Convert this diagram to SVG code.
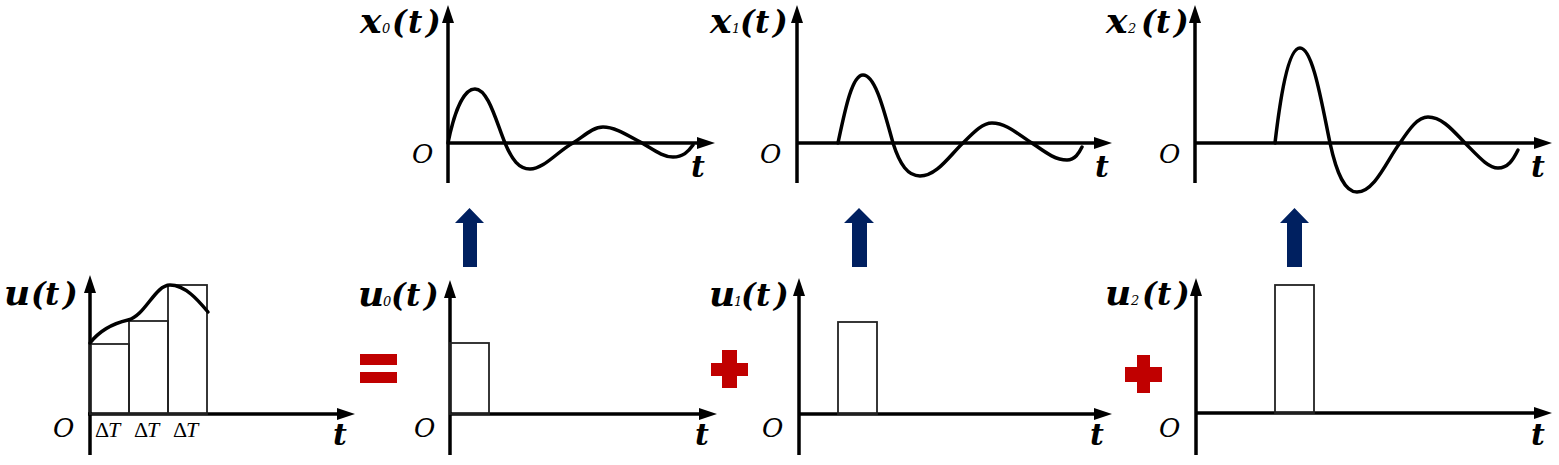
<svg xmlns="http://www.w3.org/2000/svg" width="1559" height="465" viewBox="0 0 1559 465">
<style>
.ax{stroke:#000;stroke-width:3.5;fill:none}
.cv{stroke:#000;stroke-width:3.5;fill:none;stroke-linejoin:round;stroke-linecap:round}
.bar{stroke:#222;stroke-width:1.8;fill:none}
.lab{font-family:"DejaVu Serif",serif;font-weight:bold;font-style:italic;font-size:31px;fill:#000}
.big{font-size:36px}
.sub{font-family:"DejaVu Serif",serif;font-style:italic;font-weight:normal;font-size:13px}
.o{font-family:"DejaVu Serif",serif;font-style:italic;font-size:26px;fill:#000}
.t{font-family:"DejaVu Serif",serif;font-weight:bold;font-style:italic;font-size:30px;fill:#000}
.dt{font-family:"Liberation Serif",serif;font-size:22px;fill:#000}
.red{fill:#C00000}
.blue{fill:#002060}
</style>
<defs>
<marker id="ah" markerUnits="userSpaceOnUse" markerWidth="18" markerHeight="12" refX="8" refY="6" orient="auto" viewBox="0 0 18 12">
<path d="M0,0 L18,6 L0,12 z" fill="#000"/>
</marker>
</defs>

<g id="panel-u">
<line class="ax" x1="90" y1="455" x2="90" y2="285" marker-end="url(#ah)"/>
<line class="ax" x1="88" y1="414" x2="345" y2="414" marker-end="url(#ah)"/>
<rect class="bar" x="90" y="344" width="39" height="70"/>
<rect class="bar" x="129" y="321" width="39" height="93"/>
<rect class="bar" x="168" y="285" width="39" height="129"/>
<path class="cv" d="M90,343 C100,330 115,323 128,320 C145,316 155,285 170,285 C185,285 198,300 208,312"/>
<text class="lab" y="305"><tspan x="4" class="big">u</tspan><tspan x="31">(</tspan><tspan x="45">t</tspan><tspan x="63">)</tspan></text>
<text class="o" x="53" y="437">O</text>
<text class="dt" y="437"><tspan x="95">Δ</tspan><tspan x="108" font-style="italic">T</tspan><tspan x="134">Δ</tspan><tspan x="147" font-style="italic">T</tspan><tspan x="173">Δ</tspan><tspan x="186" font-style="italic">T</tspan></text>
<text class="t" x="333" y="445">t</text>
</g>

<g id="panel-u0">
<line class="ax" x1="450" y1="455" x2="450" y2="290" marker-end="url(#ah)"/>
<line class="ax" x1="450" y1="414" x2="707" y2="414" marker-end="url(#ah)"/>
<rect class="bar" x="450" y="343" width="39" height="71"/>
<text class="lab" y="306"><tspan x="358" class="big">u</tspan><tspan x="383" class="sub">0</tspan><tspan x="391">(</tspan><tspan x="406">t</tspan><tspan x="424">)</tspan></text>
<text class="o" x="414" y="437">O</text>
<text class="t" x="695" y="445">t</text>
</g>

<g id="panel-u1">
<line class="ax" x1="799" y1="455" x2="799" y2="288" marker-end="url(#ah)"/>
<line class="ax" x1="799" y1="414" x2="1102" y2="414" marker-end="url(#ah)"/>
<rect class="bar" x="838" y="322" width="39" height="92"/>
<text class="lab" y="306"><tspan x="709" class="big">u</tspan><tspan x="734" class="sub">1</tspan><tspan x="741">(</tspan><tspan x="756">t</tspan><tspan x="774">)</tspan></text>
<text class="o" x="762" y="437">O</text>
<text class="t" x="1090" y="445">t</text>
</g>

<g id="panel-u2">
<line class="ax" x1="1196" y1="455" x2="1196" y2="288" marker-end="url(#ah)"/>
<line class="ax" x1="1196" y1="413" x2="1542" y2="413" marker-end="url(#ah)"/>
<rect class="bar" x="1275" y="285" width="39" height="128"/>
<text class="lab" y="305"><tspan x="1105" class="big">u</tspan><tspan x="1131" class="sub">2</tspan><tspan x="1142">(</tspan><tspan x="1157">t</tspan><tspan x="1175">)</tspan></text>
<text class="o" x="1159" y="437">O</text>
<text class="t" x="1531" y="445">t</text>
</g>

<g id="panel-x0">
<line class="ax" x1="448" y1="183" x2="448" y2="15" marker-end="url(#ah)"/>
<line class="ax" x1="448" y1="143" x2="705" y2="143" marker-end="url(#ah)"/>
<path class="cv" d="M448,143 C453,118 462,89 475,89 C488,89 496,121 505,143 C512,160 519,169 530,169 C544,169 558,151 573,143 C584,136 593,127 603,127 C616,127 630,137 642,143 C654,150 663,157 673,157 C683,157 688,152 693,145"/>
<text class="lab" y="33"><tspan x="360" class="big">x</tspan><tspan x="382" class="sub">0</tspan><tspan x="392">(</tspan><tspan x="408">t</tspan><tspan x="426">)</tspan></text>
<text class="o" x="412" y="163">O</text>
<text class="t" x="691" y="177">t</text>
</g>

<g id="panel-x1">
<line class="ax" x1="797" y1="183" x2="797" y2="15" marker-end="url(#ah)"/>
<line class="ax" x1="797" y1="143" x2="1102" y2="143" marker-end="url(#ah)"/>
<path class="cv" d="M838,143 C845,110 852,75 863,75 C876,75 885,115 893,143 C900,165 908,176 920,176 C937,176 950,155 963,143 C973,133 982,123 992,123 C1007,123 1020,136 1032,143 C1045,152 1055,160 1067,160 C1075,160 1079,153 1082,147"/>
<text class="lab" y="33"><tspan x="710" class="big">x</tspan><tspan x="732" class="sub">1</tspan><tspan x="740">(</tspan><tspan x="755">t</tspan><tspan x="773">)</tspan></text>
<text class="o" x="760" y="163">O</text>
<text class="t" x="1095" y="177">t</text>
</g>

<g id="panel-x2">
<line class="ax" x1="1195" y1="183" x2="1195" y2="15" marker-end="url(#ah)"/>
<line class="ax" x1="1195" y1="143" x2="1542" y2="143" marker-end="url(#ah)"/>
<path class="cv" d="M1275,143 C1280,100 1288,48 1300,48 C1313,48 1322,105 1330,143 C1337,175 1345,192 1357,192 C1375,192 1388,158 1400,143 C1410,128 1418,117 1428,117 C1443,117 1455,133 1465,143 C1478,156 1488,168 1498,168 C1508,168 1513,160 1518,150"/>
<text class="lab" y="33"><tspan x="1106" class="big">x</tspan><tspan x="1128" class="sub">2</tspan><tspan x="1141">(</tspan><tspan x="1156">t</tspan><tspan x="1174">)</tspan></text>
<text class="o" x="1159" y="163">O</text>
<text class="t" x="1531" y="177">t</text>
</g>

<g id="operators">
<rect class="red" x="360" y="354" width="37" height="11"/>
<rect class="red" x="360" y="372" width="37" height="11"/>
<path class="red" d="M722,350 H737 V363 H748 V376 H737 V388 H722 V376 H711 V363 H722 z"/>
<path class="red" d="M1137,355 H1150 V367 H1162 V382 H1150 V393 H1137 V382 H1125 V367 H1137 z"/>
</g>

<g id="connectors">
<path class="blue" d="M463,267 V223 H455 L469.5,208 L484,223 H477 V267 z"/>
<path class="blue" d="M852,267 V223 H844 L859,208 L874,223 H867 V267 z"/>
<path class="blue" d="M1287,267 V223 H1280 L1294.5,208 L1309,223 H1302 V267 z"/>
</g>
</svg>
